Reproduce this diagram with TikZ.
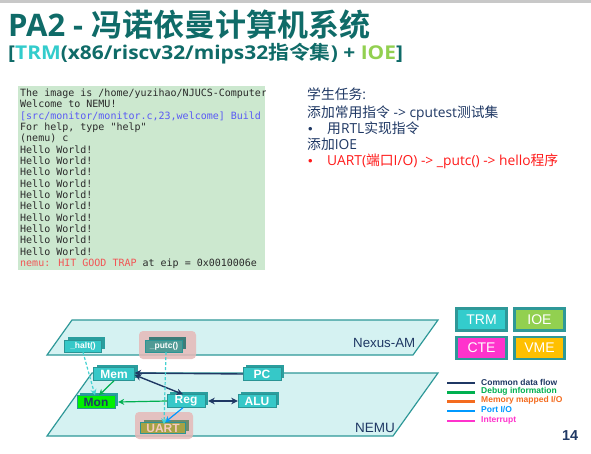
\documentclass[tikz,border=0pt]{standalone}
\usepackage{fontspec}
\setmainfont{Noto Sans CJK SC}[BoldFont={Noto Sans CJK SC Bold}]
\newfontfamily\mono{DejaVu Sans Mono}
\newfontfamily\arial{Liberation Sans}
\newfontfamily\lat{Open Sans}
\usetikzlibrary{shadows,arrows.meta}
\definecolor{titlec}{HTML}{0F6B68}
\definecolor{trmc}{HTML}{33CCCC}
\definecolor{ioec}{HTML}{92D050}
\definecolor{ctec}{HTML}{FF33CC}
\definecolor{vmec}{HTML}{FFC000}
\definecolor{termbg}{HTML}{CCE8CF}
\definecolor{termtxt}{HTML}{2A2A2A}
\definecolor{termblue}{HTML}{5A5AF5}
\definecolor{termred}{HTML}{F25555}
\definecolor{navy}{HTML}{1F3864}
\definecolor{redtxt}{HTML}{FF1A1A}
\definecolor{planefill}{HTML}{D5F2F2}
\definecolor{planeedge}{HTML}{2E9898}
\definecolor{boxfill}{HTML}{36C8C8}
\definecolor{boxside}{HTML}{2A9E9E}
\definecolor{boxedge}{HTML}{2A9494}
\definecolor{putcfill}{HTML}{4F9A95}
\definecolor{putcside}{HTML}{3D7C78}
\definecolor{monfill}{HTML}{00F000}
\definecolor{uartfill}{HTML}{A6A245}
\definecolor{uartside}{HTML}{6F8A6A}
\definecolor{uarttxt}{HTML}{F5C9C0}
\definecolor{hlc}{HTML}{E6B9B8}
\definecolor{dbg}{HTML}{00B050}
\definecolor{mmio}{HTML}{F46B1E}
\definecolor{pio}{HTML}{0099FF}
\definecolor{dashc}{HTML}{45D2D2}
\definecolor{topbar}{HTML}{C8C8C8}
\begin{document}
\begin{tikzpicture}[x=1pt,y=-1pt,
  term/.style={anchor=base west,inner sep=0,text=termtxt,font=\mono\fontsize{10}{11}\selectfont},
  rt/.style={anchor=base west,inner sep=0,text=navy,font=\fontsize{13.8}{16}\selectfont},
  bul/.style={anchor=base west,inner sep=0,text=navy,font=\arial\fontsize{13}{15}\selectfont},
  plane/.style={fill=planefill,draw=planeedge,line width=1.2pt},
  box3d/.style={draw=boxedge,fill=boxfill,general shadow={fill=boxside,shadow xshift=3pt,shadow yshift=3pt},
    minimum width=38pt,minimum height=13pt,inner sep=0,text=white,font=\arial\bfseries\fontsize{12}{13}\selectfont},
  smallbox/.style={box3d,minimum width=37pt,minimum height=12pt,font=\arial\bfseries\fontsize{8.5}{9}\selectfont},
  hl/.style={fill=hlc,opacity=0.85,rounded corners=4pt},
  flow/.style={draw=navy,line width=1.4pt,-{Stealth[length=6.5pt,width=6.5pt,inset=2pt]}},
  flowb/.style={flow,{Stealth[length=6.5pt,width=6.5pt,inset=2pt]}-{Stealth[length=6.5pt,width=6.5pt,inset=2pt]}},
  dbgarrow/.style={draw=dbg,line width=1.2pt,-{Stealth[length=6pt,width=6pt,inset=2pt]}},
  pioarrow/.style={draw=pio,line width=1.2pt,-{Stealth[length=6pt,width=6pt,inset=2pt]}},
  dasharrow/.style={draw=dashc,line width=1.2pt,dash pattern=on 3pt off 2pt,-{Stealth[length=6pt,width=6pt,inset=2pt]}},
  legbox/.style={draw=planeedge,line width=2.5pt,minimum width=50pt,minimum height=22pt,inner sep=0,text=white,font=\arial\fontsize{14}{16}\selectfont},
  legline/.style={line width=2.5pt},
  legtext/.style={anchor=west,inner sep=0,font=\arial\bfseries\fontsize{8.5}{9}\selectfont}
]
\useasboundingbox (0,0) rectangle (591,454);
\fill[white] (0,0) rectangle (591,454);
\fill[topbar] (0,0) rectangle (591,3);

% titles
\node[anchor=base west,inner sep=0,text=titlec,font=\fontsize{31}{36}\selectfont\bfseries] (title) at (8,37) {{\lat PA2 - }冯诺依曼计算机系统};
\begin{scope}[xscale=1.1]
\node[anchor=base west,inner sep=0,text=titlec,transform shape,font=\fontsize{19}{22}\selectfont\bfseries] (sub) at (7.3,60)
  {{\lat [\textcolor{trmc}{TRM}(x86/riscv32/mips32}指令集{\lat ) + \textcolor{ioec}{IOE}]}};
\end{scope}

% terminal
\fill[termbg] (18,86) rectangle (265,270);
\begin{scope}
\clip (18,86) rectangle (265,270);
\node[term] (t1) at (20,96.5) {The image is /home/yuzihao/NJUCS-Computer-System};
\node[term] (t2) at (20,107.8) {Welcome to NEMU!};
\node[term,text=termblue] (t3) at (20,119.2) {[src/monitor/monitor.c,23,welcome] Build time};
\node[term] (t4) at (20,130.5) {For help, type "help"};
\node[term] (t5) at (20,141.8) {(nemu) c};
\foreach \i in {0,...,9} {
  \node[term] (h\i) at (20,153.2+11.33*\i) {Hello World!};
}
\node[term] (t6) at (20,266.5) {\textcolor{termred}{nemu: HIT GOOD TRAP} at eip = 0x0010006e};
\end{scope}

% task text
\node[rt] (r1) at (307,100) {学生任务{\lat :}};
\node[rt] (r2) at (307,118) {添加常用指令{\lat\ -> cputest}测试集};
\node[bul] (b1) at (308,134) {•};
\node[rt] (r3) at (327,134) {用{\lat RTL}实现指令};
\node[rt] (r4) at (307,150) {添加{\lat IOE}};
\node[bul,text=redtxt] (b2) at (308,166) {•};
\node[rt,text=redtxt] (r5) at (327,166) {{\lat UART(}端口{\lat I/O) -> \_putc() -> hello}程序};

% planes
\filldraw[plane] (72,320) -- (438,320) -- (413,355) -- (47,355) -- cycle;
\filldraw[plane] (92,373) -- (438,373) -- (393,436) -- (47,436) -- cycle;
\node[anchor=base west,inner sep=0,text=navy,font=\arial\fontsize{13.3}{15}\selectfont] (nexus) at (353,347.5) {Nexus-AM};
\node[anchor=base west,inner sep=0,text=navy,font=\arial\fontsize{13.5}{15}\selectfont] (nemu) at (355,432) {NEMU};

% highlights
\fill[hl] (139,331) rectangle (196,359);
\fill[hl] (135,412) rectangle (193,439);

% components
\node[smallbox] (halt) at (83,346) {\_halt()};
\node[smallbox,fill=putcfill,general shadow={fill=putcside,shadow xshift=3pt,shadow yshift=3pt}] (putc) at (164,346) {\_putc()};
\node[box3d,minimum width=41pt] (mem) at (114,374) {Mem};
\node[box3d] (pc) at (262,374) {PC};
\node[box3d,fill=monfill,draw=boxedge,text=navy] (mon) at (96,402) {Mon};
\node[box3d] (reg) at (186,401) {Reg};
\node[box3d] (alu) at (257,401) {ALU};
\node[box3d,minimum width=45pt,minimum height=11pt,fill=uartfill,draw=boxedge,text=uarttxt,general shadow={fill=uartside,shadow xshift=3pt,shadow yshift=3pt}] (uart) at (163,428) {UART};

% connectors
\draw[flow] (pc.west) -- ([yshift=1pt]mem.east);
\draw[flowb] ([yshift=-1pt]mem.east) -- ([xshift=-3pt]reg.north);
\draw[flowb] ([xshift=3pt]reg.east) -- (alu.west);
\draw[dbgarrow] (reg.west) -- ([xshift=3pt]mon.east);
\draw[dbgarrow] (mem.south) -- ([xshift=3pt]mon.north);
\draw[pioarrow] ([xshift=-3pt]reg.south) -- ([xshift=2pt]uart.north);
\draw[dasharrow] (halt.south) -- ([xshift=-1pt]mon.north);
\draw[dasharrow] ([xshift=2pt]putc.south) -- ([xshift=1pt,yshift=-2pt]uart.north);

% legend boxes
\node[legbox,fill=trmc] (trm) at (481.5,319.5) {TRM};
\node[legbox,fill=ioec] (ioe) at (539.5,319.5) {IOE};
\node[legbox,fill=ctec] (cte) at (481.5,348) {CTE};
\node[legbox,fill=vmec] (vme) at (539.5,348) {VME};

% legend lines
\coordinate (l1a) at (447,383); \coordinate (l1b) at (475,383);
\coordinate (l2a) at (447,392.5); \coordinate (l2b) at (475,392.5);
\coordinate (l3a) at (447,401.5); \coordinate (l3b) at (475,401.5);
\coordinate (l4a) at (447,411); \coordinate (l4b) at (475,411);
\coordinate (l5a) at (447,421); \coordinate (l5b) at (475,421);
\draw[legline,navy] (l1a) -- (l1b);
\draw[legline,dbg] (l2a) -- (l2b);
\draw[legline,mmio] (l3a) -- (l3b);
\draw[legline,pio] (l4a) -- (l4b);
\draw[legline,ctec] (l5a) -- (l5b);
\node[legtext,text=navy] (lt1) at (481,382) {Common data flow};
\node[legtext,text=dbg] (lt2) at (481,391.5) {Debug information};
\node[legtext,text=mmio] (lt3) at (481,400.5) {Memory mapped I/O};
\node[legtext,text=pio] (lt4) at (481,410) {Port I/O};
\node[legtext,text=ctec] (lt5) at (481,420) {Interrupt};

\node[anchor=base west,inner sep=0,text=navy,font=\arial\bfseries\fontsize{14.4}{16}\selectfont] (pg) at (562,440) {14};
\end{tikzpicture}
\end{document}
